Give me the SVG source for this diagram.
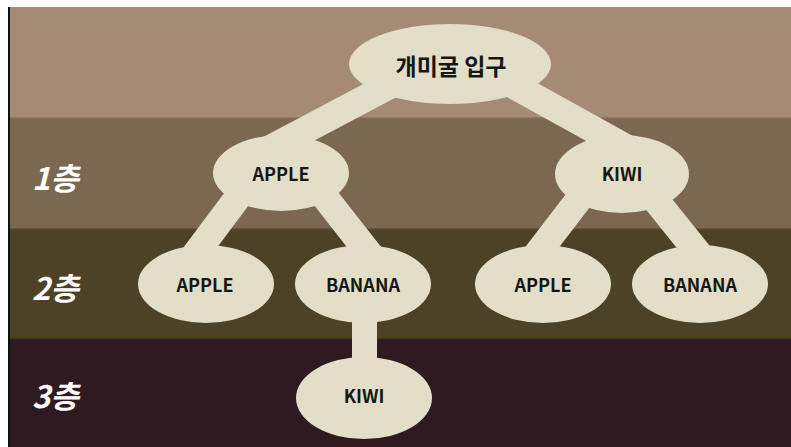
<svg xmlns="http://www.w3.org/2000/svg" width="791" height="447" viewBox="0 0 791 447">
<style>
.node{fill:#e2dec8}
.conn{stroke:#e2dec8;stroke-width:27;stroke-linecap:butt;fill:none}
.lbl{font-family:"Noto Sans CJK KR","Noto Sans",sans-serif;font-weight:bold;font-size:18px;fill:#161616;text-anchor:middle}
.root{font-size:23px}
.layer{font-family:"Noto Sans CJK KR","Noto Sans",sans-serif;font-weight:bold;font-style:italic;font-size:31px;fill:#ffffff}
</style>
<rect x="0" y="0" width="791" height="447" fill="#ffffff"/>
<rect x="8" y="7" width="2" height="440" fill="#111111"/>
<g id="bands">
<rect x="10" y="7" width="781" height="111" fill="#a68b74"/>
<rect x="10" y="118" width="781" height="111" fill="#7c6751"/>
<rect x="10" y="229" width="781" height="110" fill="#4e4226"/>
<rect x="10" y="339" width="781" height="108" fill="#301a22"/>
<rect x="10" y="117" width="781" height="1.5" fill="#8f7862"/>
<rect x="10" y="228" width="781" height="1.5" fill="#62543c"/>
<rect x="10" y="338" width="781" height="1.5" fill="#3e2c24"/>
</g>
<g id="layer-labels">
<text class="layer" x="32" y="190">1층</text>
<text class="layer" x="32" y="300">2층</text>
<text class="layer" x="32" y="408">3층</text>
</g>
<g id="connectors">
<line class="conn" x1="430" y1="64" x2="262" y2="153"/>
<line class="conn" x1="475" y1="64" x2="634" y2="152"/>
<line class="conn" x1="256" y1="173" x2="173" y2="284"/>
<line class="conn" x1="306" y1="173" x2="393" y2="284"/>
<line class="conn" x1="599" y1="173" x2="514" y2="284"/>
<line class="conn" x1="634" y1="173" x2="723" y2="284"/>
<line class="conn" style="stroke-width:25" x1="364.5" y1="284" x2="364.5" y2="398"/>
</g>
<g id="node-root">
<ellipse class="node" cx="450" cy="64" rx="101" ry="40"/>
<text class="lbl root" x="451" y="75">개미굴 입구</text>
</g>
<g id="node-apple1">
<ellipse class="node" cx="281" cy="173" rx="68" ry="38"/>
<text class="lbl" x="281" y="181">APPLE</text>
</g>
<g id="node-kiwi1">
<ellipse class="node" cx="622" cy="174" rx="67" ry="39"/>
<text class="lbl" x="622" y="181">KIWI</text>
</g>
<g id="node-apple2l">
<ellipse class="node" cx="206" cy="284" rx="68" ry="39"/>
<text class="lbl" x="205" y="292">APPLE</text>
</g>
<g id="node-banana2l">
<ellipse class="node" cx="363" cy="284" rx="68" ry="39"/>
<text class="lbl" x="363" y="292">BANANA</text>
</g>
<g id="node-apple2r">
<ellipse class="node" cx="543" cy="284" rx="68" ry="39"/>
<text class="lbl" x="543" y="292">APPLE</text>
</g>
<g id="node-banana2r">
<ellipse class="node" cx="700" cy="284" rx="68" ry="39"/>
<text class="lbl" x="700" y="292">BANANA</text>
</g>
<g id="node-kiwi3">
<ellipse class="node" cx="364" cy="398" rx="68" ry="41"/>
<text class="lbl" x="364" y="403">KIWI</text>
</g>
</svg>
